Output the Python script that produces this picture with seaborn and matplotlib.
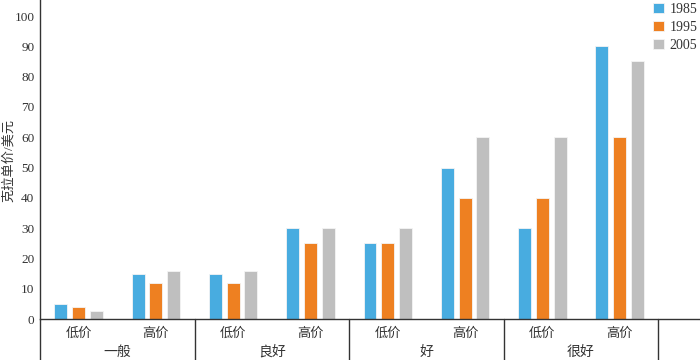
import seaborn as sns
import matplotlib.pyplot as plt
import matplotlib.transforms as mtransforms
import pandas as pd

grades = ['一般', '良好', '好', '很好']
prices = ['低价', '高价']
years = ['1985', '1995', '2005']
colors = ['#48ace0', '#ee8021', '#bfbfbf']

# values per year, in slot order: 一般低价, 一般高价, 良好低价, 良好高价, 好低价, 好高价, 很好低价, 很好高价
v1985 = [5, 15, 15, 30, 25, 50, 30, 90]
v1995 = [3.8, 12, 12, 25, 25, 40, 40, 60]
v2005 = [2.8, 16, 16, 30, 30, 60, 60, 85]

slots = [f'{g}-{p}' for g in grades for p in prices]
rows = []
for yr, vals in zip(years, [v1985, v1995, v2005]):
    for s, v in zip(slots, vals):
        rows.append({'slot': s, 'year': yr, 'value': v})
df = pd.DataFrame(rows)

sns.set_style('white')
plt.rcParams['font.family'] = ['Liberation Serif', 'Noto Sans CJK SC']

fig = plt.figure(figsize=(7, 3.6), dpi=100)
ax = fig.add_axes([40 / 700, 41 / 360, 660 / 700, 319 / 360])

sns.barplot(data=df, x='slot', y='value', hue='year', order=slots, hue_order=years,
            palette=colors, saturation=1, width=0.69, gap=0.27, edgecolor='#f4f4f4',
            linewidth=0.6, ax=ax)

ax.set_xlim(-0.5, 8.04)
ax.set_ylim(0, 105.3)
ax.set_yticks(range(0, 101, 10))
ax.tick_params(axis='y', direction='in', length=4, width=1, color='#333333',
               labelsize=9.5, pad=4, labelcolor='#333333')
ax.set_xticks(range(len(slots)))
ax.set_xticklabels([s.split('-')[1] for s in slots], fontsize=9.5, color='#333333')
ax.tick_params(axis='x', length=0, pad=6)
ax.set_xlabel('')
ax.set_ylabel('')
fig.text(8.5 / 700, 0.555, '克拉单价/美元', rotation=90, ha='center', va='center',
         fontsize=9.5, color='#333333')

for side in ['top', 'right']:
    ax.spines[side].set_visible(False)
for side in ['left', 'bottom']:
    ax.spines[side].set_color('#333333')
    ax.spines[side].set_linewidth(1)

trans = mtransforms.blended_transform_factory(ax.transData, ax.transAxes)
drop = -41 / 319
for x in [-0.5, 1.5, 3.5, 5.5, 7.5]:
    ax.plot([x, x], [0, drop], transform=trans, clip_on=False, color='#333333', lw=1)
for i, g in enumerate(grades):
    ax.text(2 * i + 0.5, -33 / 319, g, transform=trans, ha='center', va='center',
            fontsize=10, color='#333333')

handles, labels = ax.get_legend_handles_labels()
ax.legend(handles, labels, frameon=False, loc='upper right', bbox_to_anchor=(1.0, 1.0),
          bbox_transform=fig.transFigure, handlelength=0.8, handleheight=0.8,
          handletextpad=0.4, labelspacing=0.35, fontsize=10, borderaxespad=0.1,
          borderpad=0.1, labelcolor='#333333')

fig.savefig('out.png', dpi=100)
